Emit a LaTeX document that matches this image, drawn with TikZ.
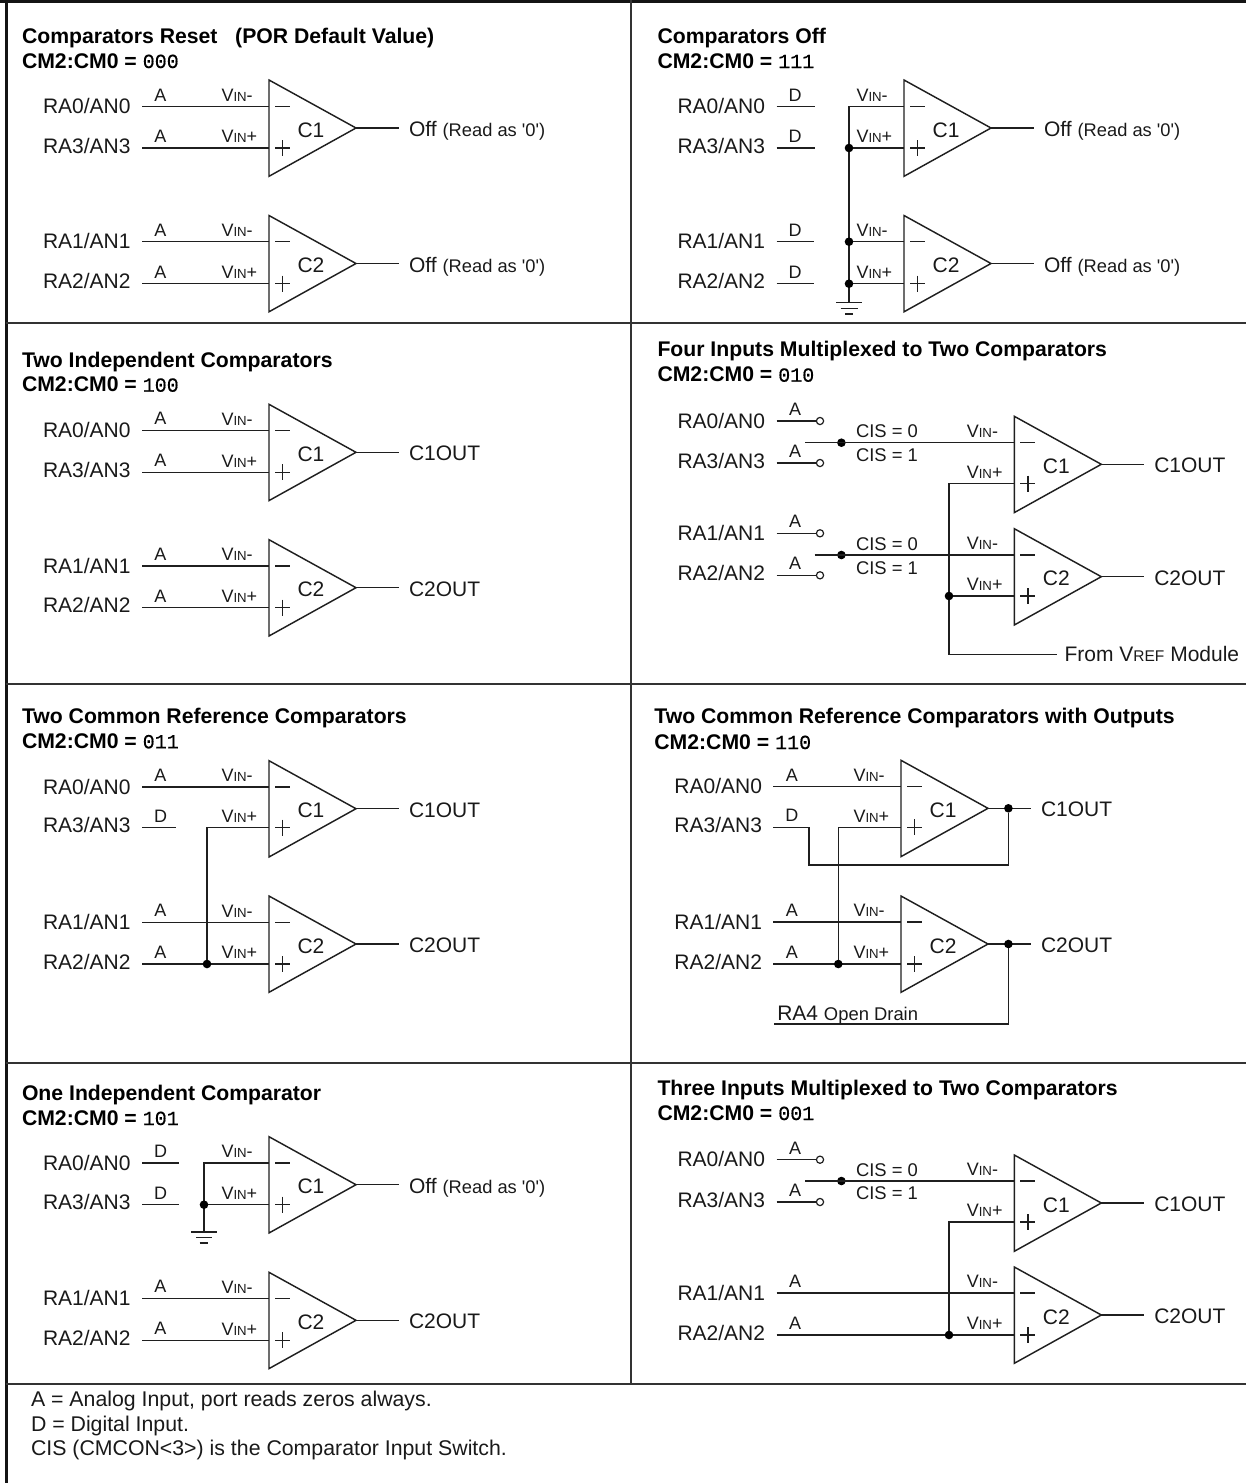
\documentclass[tikz,border=0pt]{standalone}
\usepackage{fontspec}
\setmainfont{Liberation Sans}
\newfontfamily\plainfont{Liberation Sans}
\newfontfamily\monofont{Liberation Mono}[FakeBold=0.5]
\newcommand\fsz[1]{\fontsize{#1}{#1}\selectfont}
\tikzset{
  wire/.style={line width=1.45pt,draw=black!88,line join=miter},
  rulemain/.style={line width=2.2pt,draw=black!80},
  rulethick/.style={line width=2.6pt,draw=black!92},
  lab/.style={font=\fsz{21},inner sep=0pt,outer sep=0pt,anchor=base west,text=black!90},
  letter/.style={font=\fsz{18},inner sep=0pt,outer sep=0pt,anchor=base,text=black!90},
  smalltxt/.style={font=\fsz{18.4},inner sep=0pt,outer sep=0pt,anchor=base west,text=black!90},
  vintxt/.style={font=\fsz{18},inner sep=0pt,outer sep=0pt,anchor=base west,text=black!90},
  ttl/.style={font=\fsz{21.2}\bfseries,inner sep=0pt,outer sep=0pt,anchor=base west,text=black},
  legendtxt/.style={font=\fsz{21.3},inner sep=0pt,outer sep=0pt,anchor=base west,text=black!90},
  jdot/.style={circle,fill=black,draw=none,minimum size=8.6pt,inner sep=0pt,outer sep=0pt},
  odot/.style={circle,fill=white,draw=black!88,line width=1.2pt,minimum size=7.2pt,inner sep=0pt,outer sep=0pt},
}
% name, x, apex y, minus y, plus y, label, output text
\newcommand\comparator[7]{%
  \draw[wire] ({#2},{#3-48}) -- ({#2+87},{#3}) -- ({#2},{#3+48.3}) -- cycle;
  \coordinate (#1-m) at ({#2},{#4});
  \coordinate (#1-p) at ({#2},{#5});
  \coordinate (#1-o) at ({#2+87},{#3});
  \coordinate (#1-e) at ({#2+130},{#3});
  \draw[wire] (#1-o) -- (#1-e);
  \draw[wire] ({#2+6},{#4}) -- ({#2+21},{#4});
  \draw[wire] ({#2+6},{#5}) -- ({#2+21},{#5}) ({#2+13.5},{#5-8}) -- ({#2+13.5},{#5+8});
  \node[lab,anchor=base] (#1-c) at ({#2+42},{#3+9}) {#6};
  \node[lab] (#1-out) at ({#2+140},{#3+8.5}) {#7};
  \node[vintxt] (#1-vm) at ({#2-47.5},{#4-5.3}) {V{\fsz{13.2}IN}-};
  \node[vintxt] (#1-vp) at ({#2-47.5},{#5-5.3}) {V{\fsz{13.2}IN}+};
}
% [label baseline offset], name, label x, wire y, label, letter
\newcommand\pin[6][5]{%
  \node[lab] (#2) at ({#3},{#4+#1}) {#5};
  \coordinate (#2-w) at ({#3+99},{#4});
  \node[letter] (#2-l) at ({#3+117.5},{#4-5.5}) {#6};
}
% prefix, x, y1, y2, title, code
\newcommand\titles[6]{%
  \node[ttl] (#1-t) at ({#2},{#3}) {#5};
  \node[ttl] (#1-k) at ({#2},{#4}) {CM2:CM0 = {\monofont\mdseries\fsz{20}#6}};
}
\newcommand\offtxt{Off\hspace{6pt}{\plainfont\fsz{18.3}(Read as '0')}}
\begin{document}
\begin{tikzpicture}[x=1pt,y=-1pt]
\useasboundingbox (0,0) rectangle (1246,1483);
% frame
\coordinate (tl) at (0,1.2); \coordinate (tr) at (1246,1.2);
\draw[rulethick] (tl) -- (tr);
\coordinate (lt) at (6.2,0); \coordinate (lb) at (6.2,1483);
\draw[rulethick] (lt) -- (lb);
\coordinate (mt) at (631,0); \coordinate (mb) at (631,1384.3);
\draw[rulemain] (mt) -- (mb);
\foreach \yy/\nn in {322.7/r1,684/r2,1063.3/r3,1384.3/r4}{
  \coordinate (\nn a) at (6,\yy); \coordinate (\nn b) at (1246,\yy);
  \draw[rulemain] (\nn a) -- (\nn b);
}

% ---- Panel A: reset
\titles{pa}{22}{43}{68}{Comparators Reset\ \ \ (POR Default Value)}{000}
\pin[7]{a0}{43}{106.7}{RA0/AN0}{A}
\pin{a3}{43}{148}{RA3/AN3}{A}
\pin[7]{a1}{43}{241.7}{RA1/AN1}{A}
\pin{a2}{43}{283.7}{RA2/AN2}{A}
\comparator{a-c1}{269}{128}{106.7}{148}{C1}{\offtxt}
\comparator{a-c2}{269}{263.5}{241.7}{283.7}{C2}{\offtxt}
\draw[wire] (a0-w) -- (a-c1-m);
\draw[wire] (a3-w) -- (a-c1-p);
\draw[wire] (a1-w) -- (a-c2-m);
\draw[wire] (a2-w) -- (a-c2-p);

% ---- Panel B: off
\titles{pb}{657.5}{43}{68}{Comparators Off}{111}
\pin[7]{b0}{677.5}{106.7}{RA0/AN0}{D}
\pin{b3}{677.5}{148}{RA3/AN3}{D}
\pin[7]{b1}{677.5}{241.7}{RA1/AN1}{D}
\pin{b2}{677.5}{283.7}{RA2/AN2}{D}
\comparator{b-c1}{904}{128}{106.7}{148}{C1}{\offtxt}
\comparator{b-c2}{904}{263.5}{241.7}{283.7}{C2}{\offtxt}
\coordinate (b0-e) at (814.7,106.7); \draw[wire] (b0-w) -- (b0-e);
\coordinate (b3-e) at (814.7,148); \draw[wire] (b3-w) -- (b3-e);
\coordinate (b1-e) at (814.2,241.7); \draw[wire] (b1-w) -- (b1-e);
\coordinate (b2-e) at (814.2,283.7); \draw[wire] (b2-w) -- (b2-e);
\coordinate (b-g) at (849,302.7);
\coordinate (b-g1a) at (836,302.7); \coordinate (b-g1b) at (862,302.7);
\coordinate (b-g2a) at (840.5,308.4); \coordinate (b-g2b) at (857.5,308.4);
\coordinate (b-g3a) at (845,314); \coordinate (b-g3b) at (853,314);
\draw[wire] (b-c1-m) -| (b-g);
\node[jdot] (b-j1) at (849,148) {};
\node[jdot] (b-j2) at (849,241.7) {};
\node[jdot] (b-j3) at (849,283.7) {};
\draw[wire] (b-c1-p) -- (b-j1);
\draw[wire] (b-c2-m) -- (b-j2);
\draw[wire] (b-c2-p) -- (b-j3);
\draw[wire] (b-g1a) -- (b-g1b);
\draw[wire] (b-g2a) -- (b-g2b);
\draw[wire] (b-g3a) -- (b-g3b);

% ---- Panel C: two independent
\titles{pc}{22}{367.7}{391.7}{Two Independent Comparators}{100}
\pin[7]{c0}{43}{430.3}{RA0/AN0}{A}
\pin{c3}{43}{472.3}{RA3/AN3}{A}
\pin[7]{c1}{43}{566}{RA1/AN1}{A}
\pin{c2}{43}{607.7}{RA2/AN2}{A}
\comparator{c-c1}{269}{452.3}{430.3}{472.3}{C1}{C1OUT}
\comparator{c-c2}{269}{587.7}{566}{607.7}{C2}{C2OUT}
\draw[wire] (c0-w) -- (c-c1-m);
\draw[wire] (c3-w) -- (c-c1-p);
\draw[wire] (c1-w) -- (c-c2-m);
\draw[wire] (c2-w) -- (c-c2-p);

% ---- Panel D: four inputs muxed
\titles{pd}{657.5}{356.7}{381.7}{Four Inputs Multiplexed to Two Comparators}{010}
\pin[7]{d0}{677.5}{421}{RA0/AN0}{A}
\pin{d3}{677.5}{463}{RA3/AN3}{A}
\pin[7]{d1}{677.5}{533.3}{RA1/AN1}{A}
\pin{d2}{677.5}{575.3}{RA2/AN2}{A}
\comparator{d-c1}{1014.3}{464.3}{442.7}{483.7}{C1}{C1OUT}
\comparator{d-c2}{1014.3}{576.7}{555}{596}{C2}{C2OUT}
\node[odot] (d0-s) at (820,421) {};
\node[odot] (d3-s) at (820,463) {};
\node[odot] (d1-s) at (820,533.3) {};
\node[odot] (d2-s) at (820,575.3) {};
\draw[wire] (d0-w) -- (d0-s);
\draw[wire] (d3-w) -- (d3-s);
\draw[wire] (d1-w) -- (d1-s);
\draw[wire] (d2-w) -- (d2-s);
\coordinate (d-s1) at (805,442.7);
\coordinate (d-s2) at (814.7,555);
\node[jdot] (d-j1) at (841.4,442.7) {};
\node[jdot] (d-j2) at (841.4,555) {};
\draw[wire] (d-s1) -- (d-c1-m);
\draw[wire] (d-s2) -- (d-c2-m);
\node[smalltxt] (d-cis1) at (856,437.7) {CIS = 0};
\node[smalltxt] (d-cis2) at (856,461) {CIS = 1};
\node[smalltxt] (d-cis3) at (856,550) {CIS = 0};
\node[smalltxt] (d-cis4) at (856,574.3) {CIS = 1};
\coordinate (d-v) at (949,654.3);
\coordinate (d-ve) at (1057,654.3);
\draw[wire] (d-c1-p) -| (d-v) -- (d-ve);
\node[jdot] (d-j3) at (949,596) {};
\draw[wire] (d-c2-p) -- (d-j3);
\node[lab] (d-vref) at (1064.6,661.7) {From V{\fsz{15.5}REF} Module};

% ---- Panel E: two common reference
\titles{pe}{22}{723.3}{748.3}{Two Common Reference Comparators}{011}
\pin[7]{e0}{43}{787}{RA0/AN0}{A}
\pin{e3}{43}{827.7}{RA3/AN3}{D}
\pin[7]{e1}{43}{922.3}{RA1/AN1}{A}
\pin{e2}{43}{964}{RA2/AN2}{A}
\comparator{e-c1}{269}{808.7}{787}{827.7}{C1}{C1OUT}
\comparator{e-c2}{269}{944}{922.3}{964}{C2}{C2OUT}
\draw[wire] (e0-w) -- (e-c1-m);
\coordinate (e3-e) at (176,827.7); \draw[wire] (e3-w) -- (e3-e);
\draw[wire] (e1-w) -- (e-c2-m);
\draw[wire] (e2-w) -- (e-c2-p);
\node[jdot] (e-j) at (207,964) {};
\draw[wire] (e-c1-p) -| (e-j);

% ---- Panel F: two common reference with outputs
\titles{pf}{654.4}{723.3}{749}{Two Common Reference Comparators with Outputs}{110}
\pin[7]{f0}{674.4}{786.7}{RA0/AN0}{A}
\pin{f3}{674.4}{827.3}{RA3/AN3}{D}
\pin[7]{f1}{674.4}{922}{RA1/AN1}{A}
\pin{f2}{674.4}{964}{RA2/AN2}{A}
\comparator{f-c1}{901}{808.3}{786.7}{827.3}{C1}{C1OUT}
\comparator{f-c2}{901}{944}{922}{964}{C2}{C2OUT}
\draw[wire] (f0-w) -- (f-c1-m);
\draw[wire] (f1-w) -- (f-c2-m);
\draw[wire] (f2-w) -- (f-c2-p);
\node[jdot] (f-j) at (838.3,964) {};
\draw[wire] (f-c1-p) -| (f-j);
\node[jdot] (f-o1) at (1008.4,808.3) {};
\node[jdot] (f-o2) at (1008.4,944) {};
\coordinate (f3-a) at (808.8,827.3);
\coordinate (f3-b) at (808.8,865);
\coordinate (f3-c) at (1008.4,865);
\draw[wire] (f3-w) -- (f3-a) -- (f3-b) -- (f3-c) -- (f-o1);
\coordinate (f-od) at (774,1024);
\coordinate (f-oc) at (1008.4,1024);
\draw[wire] (f-od) -- (f-oc) -- (f-o2);
\node[lab] (f-ra4) at (777.3,1020.7) {RA4 {\fsz{18.4}Open Drain}};

% ---- Panel G: one independent
\titles{pg}{22}{1100}{1125}{One Independent Comparator}{101}
\pin[7]{g0}{43}{1163}{RA0/AN0}{D}
\pin{g3}{43}{1204.7}{RA3/AN3}{D}
\pin[7]{g1}{43}{1298.3}{RA1/AN1}{A}
\pin{g2}{43}{1340.3}{RA2/AN2}{A}
\comparator{g-c1}{269}{1184.7}{1163}{1204.7}{C1}{\offtxt}
\comparator{g-c2}{269}{1320.3}{1298.3}{1340.3}{C2}{C2OUT}
\coordinate (g0-e) at (179,1163); \draw[wire] (g0-w) -- (g0-e);
\coordinate (g3-e) at (179,1204.7); \draw[wire] (g3-w) -- (g3-e);
\draw[wire] (g1-w) -- (g-c2-m);
\draw[wire] (g2-w) -- (g-c2-p);
\coordinate (g-g) at (204,1232);
\coordinate (g-g1a) at (191,1232); \coordinate (g-g1b) at (217,1232);
\coordinate (g-g2a) at (196,1237.5); \coordinate (g-g2b) at (212,1237.5);
\coordinate (g-g3a) at (199.5,1243); \coordinate (g-g3b) at (207.5,1243);
\draw[wire] (g-c1-m) -| (g-g);
\node[jdot] (g-j) at (204,1204.7) {};
\draw[wire] (g-c1-p) -- (g-j);
\draw[wire] (g-g1a) -- (g-g1b);
\draw[wire] (g-g2a) -- (g-g2b);
\draw[wire] (g-g3a) -- (g-g3b);

% ---- Panel H: three inputs muxed
\titles{ph}{657.5}{1095}{1120}{Three Inputs Multiplexed to Two Comparators}{001}
\pin[7]{h0}{677.5}{1159.7}{RA0/AN0}{A}
\pin{h3}{677.5}{1202}{RA3/AN3}{A}
\pin[7]{h1}{677.5}{1293}{RA1/AN1}{A}
\pin{h2}{677.5}{1335}{RA2/AN2}{A}
\comparator{h-c1}{1014.3}{1203}{1181}{1222}{C1}{C1OUT}
\comparator{h-c2}{1014.3}{1315}{1293}{1335}{C2}{C2OUT}
\node[odot] (h0-s) at (820,1159.7) {};
\node[odot] (h3-s) at (820,1202) {};
\draw[wire] (h0-w) -- (h0-s);
\draw[wire] (h3-w) -- (h3-s);
\coordinate (h-s1) at (805,1181);
\node[jdot] (h-j1) at (841.4,1181) {};
\draw[wire] (h-s1) -- (h-c1-m);
\node[smalltxt] (h-cis1) at (856,1176) {CIS = 0};
\node[smalltxt] (h-cis2) at (856,1199) {CIS = 1};
\draw[wire] (h1-w) -- (h-c2-m);
\draw[wire] (h2-w) -- (h-c2-p);
\node[jdot] (h-j2) at (949,1335) {};
\draw[wire] (h-c1-p) -| (h-j2);

% ---- Legend
\node[legendtxt] (l1) at (31,1406) {A = Analog Input, port reads zeros always.};
\node[legendtxt] (l2) at (31,1431) {D = Digital Input.};
\node[legendtxt] (l3) at (31,1455.7) {CIS (CMCON<3>) is the Comparator Input Switch.};
\end{tikzpicture}
\end{document}
